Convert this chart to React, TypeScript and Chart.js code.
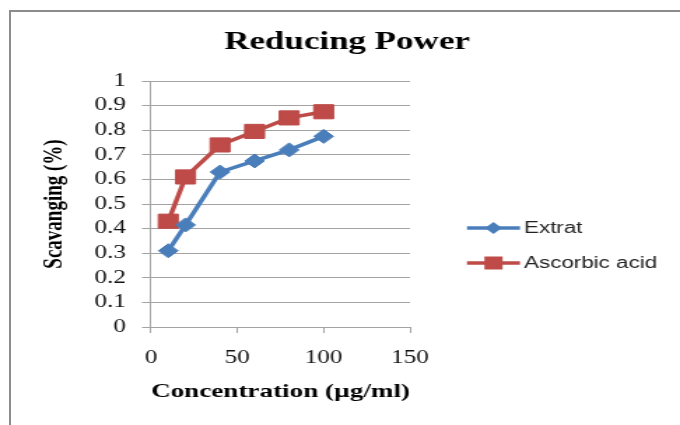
import React, { useEffect, useRef } from "react";
import { Chart, registerables } from "chart.js";

Chart.register(...registerables);

// ---- data ----
const TITLE = "Reducing Power";
const X_TITLE = "Concentration (µg/ml)";
const Y_TITLE = "Scavanging (%)";
const SERIES_NAMES = ["Extrat", "Ascorbic acid"];
const CONCENTRATIONS = [10, 20, 40, 60, 80, 100];
const EXTRAT = [0.31, 0.415, 0.63, 0.675, 0.72, 0.775];
const ASCORBIC = [0.43, 0.61, 0.74, 0.795, 0.85, 0.875];
const X_MIN = 0;
const X_MAX = 150;
const X_STEP = 50;
const Y_MIN = 0;
const Y_MAX = 1;
const Y_STEP = 0.1;

// ---- geometry (the reference image is horizontally stretched) ----
const OUT_W = 680;
const OUT_H = 425;
const CANVAS_W = 486;
const SX = OUT_W / CANVAS_W;
const lx = (x: number) => x / SX;

const BLUE = "#4a7ebb";
const RED = "#be4b48";
const GRID = "#a3a3a3";
const SERIF = '"Liberation Serif", "Times New Roman", serif';
const SANS = '"Liberation Sans", Arial, sans-serif';

const overlay = {
  id: "overlay",
  afterDraw(chart: any) {
    const ctx = chart.ctx as CanvasRenderingContext2D;
    ctx.save();
    ctx.fillStyle = "#000";
    ctx.font = `bold 25px ${SERIF}`;
    ctx.textAlign = "center";
    ctx.textBaseline = "alphabetic";
    ctx.fillText(TITLE, lx(347), 48.5);

    const rows = [228, 263];
    chart.data.datasets.forEach((ds: any, i: number) => {
      const y = rows[i];
      ctx.strokeStyle = ds.borderColor;
      ctx.lineWidth = 3.5;
      ctx.beginPath();
      ctx.moveTo(lx(467), y);
      ctx.lineTo(lx(520), y);
      ctx.stroke();
      const cx = lx(493.5);
      ctx.fillStyle = ds.backgroundColor;
      ctx.beginPath();
      if (ds.pointStyle === "rectRot") {
        const r = 6;
        ctx.moveTo(cx - r, y);
        ctx.lineTo(cx, y - r);
        ctx.lineTo(cx + r, y);
        ctx.lineTo(cx, y + r);
        ctx.closePath();
      } else {
        const h = 6.5;
        ctx.rect(cx - h, y - h, 2 * h, 2 * h);
      }
      ctx.fill();
      ctx.fillStyle = "#222";
      ctx.font = `16px ${SANS}`;
      ctx.textAlign = "left";
      ctx.textBaseline = "middle";
      ctx.fillText(ds.label, lx(524), y + 1);
    });
    ctx.restore();
  },
};

export default function App() {
  const ref = useRef<HTMLCanvasElement | null>(null);

  useEffect(() => {
    if (!ref.current) return;
    const chart = new Chart(ref.current, {
      type: "line",
      data: {
        datasets: [
          {
            label: SERIES_NAMES[0],
            data: CONCENTRATIONS.map((c, i) => ({ x: c, y: EXTRAT[i] })),
            borderColor: BLUE,
            backgroundColor: BLUE,
            borderWidth: 3.5,
            pointStyle: "rectRot",
            pointRadius: 7,
            pointBorderWidth: 1,
            tension: 0,
          },
          {
            label: SERIES_NAMES[1],
            data: CONCENTRATIONS.map((c, i) => ({ x: c, y: ASCORBIC[i] })),
            borderColor: RED,
            backgroundColor: RED,
            borderWidth: 3.5,
            pointStyle: "rect",
            pointRadius: 10,
            pointBorderWidth: 1,
            tension: 0,
          },
        ],
      },
      options: {
        responsive: false,
        animation: false,
        devicePixelRatio: 1,
        layout: {
          padding: { left: 0, top: 81, right: CANVAS_W - lx(410), bottom: 0 },
        },
        plugins: {
          legend: { display: false },
          title: { display: false },
          tooltip: { enabled: false },
        },
        scales: {
          x: {
            type: "linear",
            min: X_MIN,
            max: X_MAX,
            ticks: {
              stepSize: X_STEP,
              padding: 14,
              color: "#111",
              maxRotation: 0,
              font: { family: SERIF, size: 18 },
            },
            grid: { drawOnChartArea: false, drawTicks: true, tickLength: 6, color: GRID },
            border: { display: true, color: GRID },
            title: {
              display: true,
              text: X_TITLE,
              color: "#000",
              font: { family: SERIF, size: 19.5, weight: "bold" },
              padding: { top: 0, bottom: 21 },
            },
            afterFit: (s: any) => {
              s.height = 98;
            },
          },
          y: {
            type: "linear",
            min: Y_MIN,
            max: Y_MAX,
            ticks: {
              stepSize: Y_STEP,
              padding: 11.5,
              color: "#111",
              font: { family: SERIF, size: 18 },
              callback: (v: any) => String(Number(Number(v).toFixed(1))),
            },
            grid: { color: GRID, tickLength: 6.4 },
            border: { display: true, color: GRID },
            title: {
              display: true,
              text: Y_TITLE,
              color: "#000",
              font: { family: SERIF, size: 19, weight: "bold" },
              padding: { top: 28, bottom: 0 },
            },
            afterFit: (s: any) => {
              s.width = lx(151);
            },
          },
        },
      },
      plugins: [overlay],
    } as any);
    return () => chart.destroy();
  }, []);

  return (
    <div
      style={{
        position: "fixed",
        left: 0,
        top: 0,
        width: OUT_W,
        height: OUT_H,
        overflow: "hidden",
        background: "#fff",
      }}
    >
      <canvas
        ref={ref}
        width={CANVAS_W}
        height={OUT_H}
        style={{ position: "absolute", left: 0, top: 0, width: OUT_W, height: OUT_H }}
      />
      <div
        style={{
          position: "absolute",
          left: 9,
          top: 10,
          width: 700,
          height: 440,
          borderLeft: "2px solid #8c8c8c",
          borderTop: "2px solid #8c8c8c",
          pointerEvents: "none",
        }}
      />
    </div>
  );
}
